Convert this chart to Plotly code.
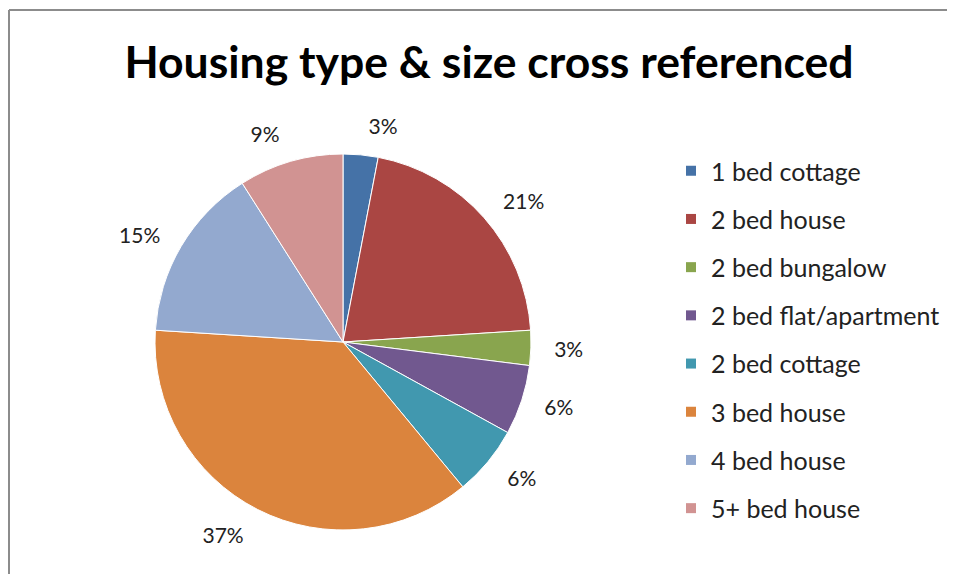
import plotly.graph_objects as go

labels = ["1 bed cottage", "2 bed house", "2 bed bungalow", "2 bed flat/apartment",
          "2 bed cottage", "3 bed house", "4 bed house", "5+ bed house"]
values = [3, 21, 3, 6, 6, 37, 15, 9]
colors = ["#4572A7", "#AA4643", "#89A54E", "#71588F",
          "#4198AF", "#DB843D", "#93A9CF", "#D19392"]

# page body has an 8px margin, so the figure is offset by 8
OFF = 8
W, H = 955 - OFF, 582 - 2 * OFF
cx, cy, r = 343 - OFF, 342 - OFF, 188


def dom(rad):
    return dict(x=[(cx - rad) / W, (cx + rad) / W],
                y=[(H - cy - rad) / H, (H - cy + rad) / H])


fig = go.Figure()
fig.add_trace(go.Pie(
    labels=labels, values=values, sort=False, direction="clockwise", rotation=0,
    marker=dict(colors=colors, line=dict(color="white", width=1)),
    textinfo="none", showlegend=False, hoverinfo="label+percent",
    domain=dom(r),
))
# transparent, slightly larger copy just to push the % labels further out (Excel style)
fig.add_trace(go.Pie(
    labels=labels, values=values, sort=False, direction="clockwise", rotation=0,
    marker=dict(colors=["rgba(0,0,0,0)"] * len(labels), line=dict(width=0)),
    texttemplate="%{percent:.0%}", textposition="outside",
    outsidetextfont=dict(size=21, color="#222"),
    showlegend=False, hoverinfo="skip",
    domain=dom(r + 17),
))

# legend entries (one group each so they can be spaced like Excel's)
for lab, col in zip(labels, colors):
    fig.add_trace(go.Scatter(
        x=[None], y=[None], mode="markers", name=lab, legendgroup=lab,
        marker=dict(symbol="square", size=10, color=col),
    ))

# chart area border: only left and top edges are visible in the crop
border = dict(color="#8c8c8c", width=2)
fig.add_shape(type="line", xref="paper", yref="paper",
              x0=1 / W, x1=1 / W, y0=0, y1=1 - 2 / H, line=border)
fig.add_shape(type="line", xref="paper", yref="paper",
              x0=1 / W, x1=1, y0=1 - 2 / H, y1=1 - 2 / H, line=border)

fig.update_layout(
    width=W, height=H,
    paper_bgcolor="white", plot_bgcolor="white",
    margin=dict(l=0, r=0, t=0, b=0),
    font=dict(family="Lato, Open Sans, sans-serif", color="#222"),
    title=dict(text="<b>Housing type & size cross referenced</b>",
               x=(489 - OFF) / W, xanchor="center", y=1 - (62 - OFF) / H, yanchor="middle",
               font=dict(size=44.5, color="black")),
    xaxis=dict(visible=False), yaxis=dict(visible=False),
    legend=dict(x=(671 - OFF) / W, y=1 - (148 - OFF) / H, xanchor="left", yanchor="top",
                font=dict(size=25), tracegroupgap=12.7, itemwidth=30,
                bgcolor="rgba(0,0,0,0)"),
)

fig.write_html("out.html")
